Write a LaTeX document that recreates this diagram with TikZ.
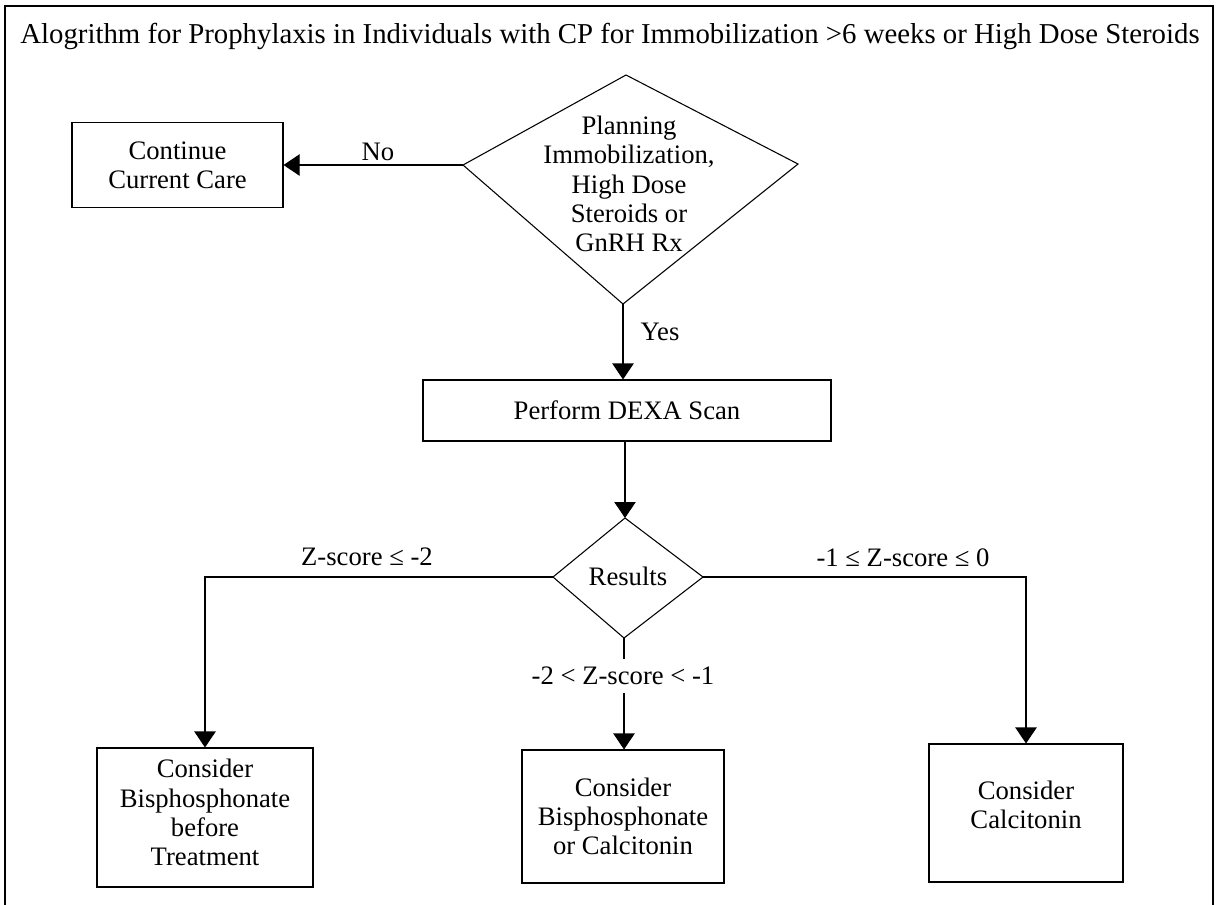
\documentclass[tikz,border=0pt]{standalone}
\usepackage{fontspec}
\setmainfont{Liberation Serif}
\usetikzlibrary{arrows.meta}
\begin{document}
\begin{tikzpicture}[x=0.75pt,y=-0.75pt,
  every node/.style={font=\fontsize{20}{22}\selectfont},
  box/.style={draw, line width=0.8pt, inner sep=0pt, align=center},
  lbl/.style={inner sep=0pt},
  conn/.style={line width=0.8pt},
  arr/.style={conn, -{Triangle[length=12pt,width=16pt]}},
]
\useasboundingbox (0,0) rectangle (1219,904);
\draw[line width=0.8pt] (5,6) rectangle (1213,920);
\node[lbl, font=\fontsize{21.6}{24}\selectfont] (title) at (610,36) {Alogrithm for Prophylaxis in Individuals with CP for Immobilization >6 weeks or High Dose Steroids};

% decision 1
\coordinate (d1t) at (626,75);
\coordinate (d1l) at (463,165);
\coordinate (d1r) at (798,164);
\coordinate (d1b) at (623,304);
\draw[conn] (d1t) -- (d1r) -- (d1b) -- (d1l) -- cycle;
\node[lbl, align=center] (d1) at (629,184) {Planning\\Immobilization,\\High Dose\\Steroids or\\GnRH Rx};

\node[box, minimum width=158.25pt, minimum height=63.75pt] (cont) at (177.5,165) {Continue\\Current Care};
\draw[arr] (d1l) -- (cont.east);
\node[lbl] (no) at (378,152) {No};

\node[box, minimum width=306pt, minimum height=45.75pt] (dexa) at (627,410.5) {Perform DEXA Scan};
\draw[arr] (d1b) -- (d1b |- dexa.north);
\node[lbl] (yes) at (660,332) {Yes};

% decision 2
\coordinate (rt) at (625,518);
\coordinate (rl) at (553,577);
\coordinate (rr) at (703,577);
\coordinate (rb) at (624,638);
\draw[conn] (rt) -- (rr) -- (rb) -- (rl) -- cycle;
\node[lbl] (res) at (628,576) {Results};
\draw[arr] (dexa.south -| rt) -- (rt);

\node[box, minimum width=162pt, minimum height=104.25pt] (b1) at (205,817.5) {Consider\\Bisphosphonate\\before\\Treatment\rule[-7.5pt]{0pt}{0pt}};
\node[box, minimum width=151.5pt, minimum height=99.75pt] (b2) at (623,816.5) {Consider\\Bisphosphonate\\or Calcitonin};
\node[box, minimum width=145.5pt, minimum height=103.5pt] (b3) at (1026,813) {Consider\\Calcitonin\rule[-12pt]{0pt}{0pt}};

\draw[arr] (rl) -| (b1.north);
\draw[arr] (rr) -| (b3.north);
\node[lbl] (zl) at (367,557) {Z-score ≤ -2};
\node[lbl] (zr) at (903,558) {-1 ≤ Z-score ≤ 0};

\node[lbl, text height=14pt, text depth=2pt, inner ysep=4.4pt] (zm) at (623,676) {-2 < Z-score < -1};
\draw[conn] (rb) -- (rb |- zm.north);
\draw[arr] (rb |- zm.south) -- (rb |- b2.north);
\end{tikzpicture}
\end{document}
